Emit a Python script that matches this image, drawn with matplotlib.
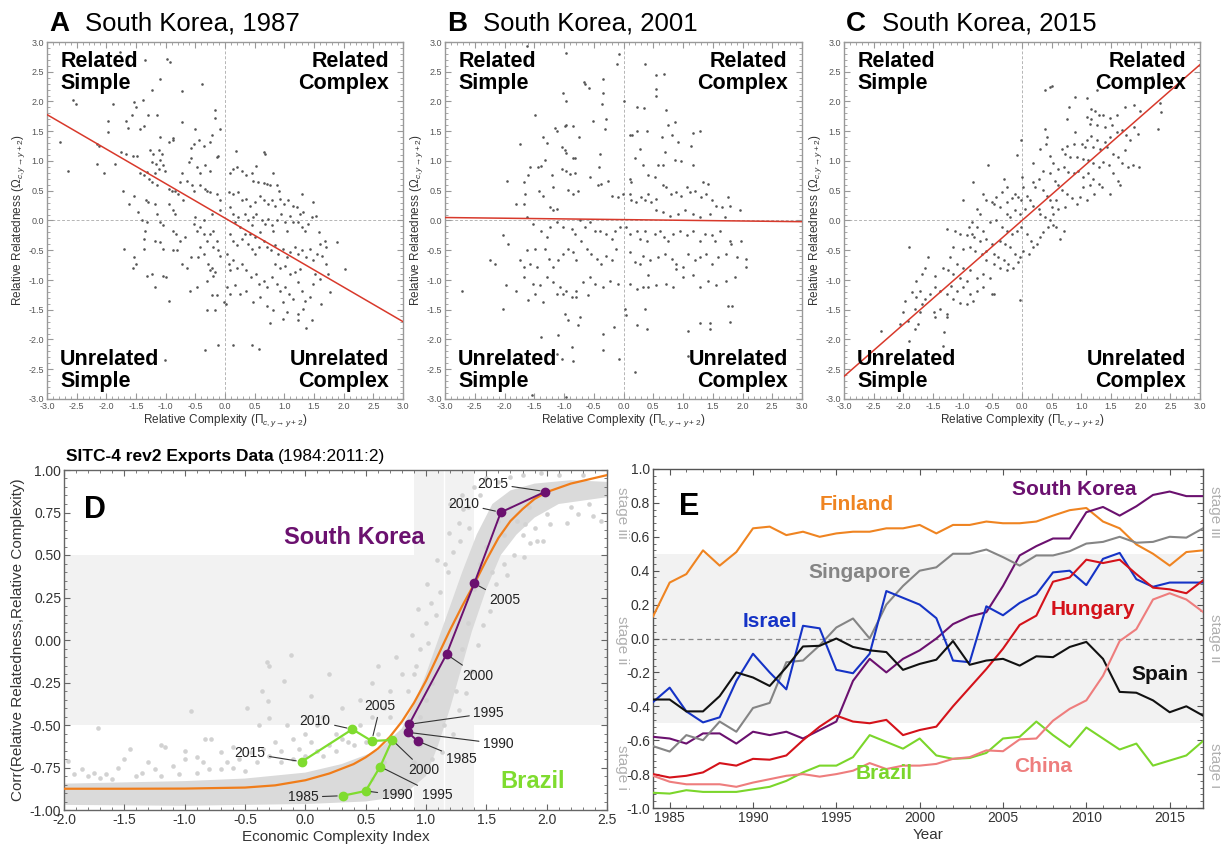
import numpy as np
import matplotlib
matplotlib.use("Agg")
import matplotlib.pyplot as plt
from matplotlib.ticker import MultipleLocator, FormatStrFormatter, AutoMinorLocator

plt.rcParams.update({
    "font.family": ["Liberation Sans", "DejaVu Sans"],
    "mathtext.fontset": "custom",
    "mathtext.rm": "Liberation Sans",
    "mathtext.it": "Liberation Sans:italic",
    "axes.unicode_minus": True,
})

# ---- panels A-C: product scatter (relative complexity, relative relatedness) ----
fit_x = [-3.0, 3.0]
fit_1987 = [1.78, -1.70]
fit_2001 = [0.05, -0.02]
fit_2015 = [-2.62, 2.62]

pts_1987 = [
    (-1.77, 2.83), (-1.35, 2.70), (-0.98, 2.72), (-0.93, 2.66), (-0.38, 2.29), (-1.10, 2.37), (-0.72, 2.18),
    (-2.56, 2.03), (-2.51, 1.95), (-1.89, 1.96), (-1.53, 1.99), (-1.39, 2.03), (-1.23, 2.19), (-0.17, 1.85),
    (-0.17, 1.73), (-0.08, 1.53), (-2.78, 1.32), (-2.64, 0.83), (-1.98, 1.67), (-1.97, 1.49), (-1.64, 1.55),
    (-1.67, 1.68), (-1.57, 1.78), (-1.50, 1.90), (-1.43, 1.54), (-1.36, 1.58), (-1.30, 1.78), (-1.15, 1.78),
    (-1.10, 1.40), (-0.94, 1.32), (-0.88, 1.35), (-0.87, 1.39), (-0.73, 1.65), (-0.50, 1.54), (-0.58, 1.22),
    (-0.53, 1.29), (-0.43, 1.35), (-0.36, 1.26), (-0.26, 1.32), (-0.22, 1.43), (-0.14, 1.07), (-0.11, 1.09),
    (0.19, 1.17), (0.66, 1.15), (-2.16, 1.29), (-2.12, 1.26), (-2.15, 0.95), (-2.04, 0.80), (-1.86, 0.95),
    (-1.72, 0.50), (-1.54, 0.42), (-1.61, 0.28), (-1.46, 0.14), (-1.75, 1.15), (-1.67, 1.12), (-1.55, 1.08),
    (-1.49, 1.09), (-1.26, 1.18), (-1.22, 1.12), (-1.12, 1.18), (-1.07, 1.12), (-1.23, 0.98), (-1.16, 0.95),
    (-1.09, 1.01), (-1.04, 0.93), (-1.18, 0.79), (-1.12, 0.87), (-1.01, 0.84), (-1.43, 0.79), (-1.36, 0.76),
    (-1.32, 0.81), (-1.28, 0.70), (-1.23, 0.64), (-1.15, 0.59), (-0.95, 0.53), (-0.90, 0.50), (-0.84, 0.49),
    (-0.79, 0.45), (-0.76, 0.64), (-0.73, 0.79), (-0.64, 0.67), (-0.60, 0.98), (-0.57, 1.05), (-0.48, 0.90),
    (-0.42, 0.79), (-0.34, 0.93), (-0.25, 0.84), (-0.56, 0.59), (-0.53, 0.50), (-0.42, 0.59), (-0.34, 0.53),
    (-0.30, 0.50), (-0.25, 0.48), (-0.70, 0.34), (-0.95, 0.28), (-0.87, 0.17), (-0.84, 0.11), (-1.33, 0.34),
    (-1.29, 0.31), (-1.18, 0.27), (-1.40, 0.00), (-1.32, -0.03), (-1.35, -0.17), (-1.15, 0.11), (-1.09, -0.03),
    (-1.04, -0.08), (-1.37, -0.31), (-1.36, -0.48), (-1.18, -0.34), (-1.09, -0.36), (-1.04, -0.48), (-1.71, -0.48),
    (-1.54, -0.62), (-1.50, -0.73), (-1.55, -0.79), (-1.32, -0.93), (-1.23, -0.90), (-1.18, -1.12), (-0.95, -1.35),
    (-1.05, -0.93), (-1.00, -0.95), (-0.87, -0.17), (-0.82, -0.22), (-0.76, -0.34), (-0.67, -0.28), (-0.87, -0.50),
    (-0.81, -0.49), (-0.73, -0.73), (-0.64, -0.79), (-0.58, -0.62), (-0.50, 0.06), (-0.53, -0.06), (-0.48, -0.17),
    (-0.42, -0.11), (-0.36, 0.00), (-0.35, -0.22), (-0.30, -0.34), (-0.25, -0.22), (-0.20, -0.17), (-0.20, -0.45),
    (-0.14, -0.34), (-0.11, -0.50), (-0.08, -0.59), (-0.45, -0.62), (-0.42, -0.45), (-0.35, -0.56), (-0.28, -0.73),
    (-0.22, -0.79), (-0.17, -0.87), (-0.59, -1.18), (-0.48, -1.11), (-0.31, -1.01), (-0.25, -0.84), (-0.20, -0.93),
    (-0.22, -1.26), (-0.14, -1.26), (-0.30, -1.51), (-0.17, -1.51), (-0.02, -1.37), (0.02, -1.40), (-0.33, -2.17),
    (-0.11, -2.10), (0.14, -2.10), (0.45, -2.10), (0.58, -2.16), (0.17, -1.09), (0.03, -1.12), (0.08, -1.23),
    (0.08, 0.79), (0.14, 0.87), (0.21, 0.90), (0.29, 0.84), (0.36, 0.76), (0.45, 0.79), (0.53, 0.91), (0.48, 0.67),
    (0.56, 0.64), (0.65, 0.63), (0.70, 0.62), (0.76, 0.59), (0.87, 0.59), (0.91, 0.50), (0.81, 0.79), (0.67, 1.12),
    (0.06, 0.48), (0.14, 0.45), (0.22, 0.48), (0.28, 0.34), (0.36, 0.36), (0.42, 0.25), (0.50, 0.31), (0.59, 0.42),
    (0.65, 0.34), (0.73, 0.28), (0.79, 0.34), (0.84, 0.25), (0.93, 0.36), (0.99, 0.28), (1.07, 0.35), (1.15, 0.25),
    (1.21, 0.22), (1.29, 0.45), (1.49, 0.31), (1.53, 0.07), (0.08, 0.22), (0.14, 0.11), (0.17, -0.03), (0.22, 0.06),
    (0.25, -0.11), (0.34, 0.11), (0.39, 0.00), (0.45, -0.08), (0.48, 0.06), (0.53, 0.11), (0.62, 0.00), (0.67, -0.06),
    (0.73, 0.03), (0.79, -0.08), (0.81, -0.17), (0.87, 0.00), (0.95, 0.11), (1.01, -0.03), (1.04, -0.17), (1.09, 0.08),
    (1.15, -0.03), (1.23, -0.03), (1.29, -0.11), (1.35, -0.17), (1.40, -0.06), (1.46, 0.06), (1.59, -0.20), (1.68, -0.34),
    (1.88, -0.36), (2.02, -0.81), (0.08, -0.22), (0.14, -0.34), (0.21, -0.42), (0.28, -0.31), (0.34, -0.22), (0.39, -0.39),
    (0.45, -0.48), (0.50, -0.56), (0.58, -0.45), (0.65, -0.34), (0.70, -0.45), (0.77, -0.50), (0.84, -0.42), (0.90, -0.56),
    (0.97, -0.48), (1.04, -0.62), (1.10, -0.53), (1.18, -0.45), (1.23, -0.56), (1.29, -0.50), (1.36, -0.62), (1.43, -0.48),
    (1.49, -0.67), (1.55, -0.56), (1.63, -0.59), (1.71, -0.73), (0.14, -0.67), (0.21, -0.79), (0.28, -0.73), (0.36, -0.84),
    (0.43, -0.95), (0.52, -0.90), (0.58, -1.07), (0.65, -1.01), (0.70, -1.12), (0.79, -0.95), (0.87, -1.07), (0.93, -1.18),
    (1.01, -1.12), (1.08, -1.23), (1.15, -1.32), (1.23, -1.04), (1.29, -1.18), (1.35, -1.35), (1.43, -1.29), (1.49, -1.07),
    (0.25, -1.23), (0.36, -1.18), (0.48, -1.37), (0.59, -1.29), (0.70, -1.43), (0.81, -1.51), (0.97, -1.37), (1.04, -1.54),
    (1.23, -1.57), (1.32, -1.49), (0.76, -1.73), (0.98, -1.65), (1.23, -1.68), (1.36, -1.81), (1.46, -1.68), (1.62, -1.40),
    (1.77, -1.21), (1.74, -0.90), (1.32, 0.14), (1.26, 0.11), (1.71, -0.45), (1.60, -0.39), (1.60, -0.98), (1.51, -0.90),
    (1.09, -0.90), (1.18, -0.87), (1.26, -0.81), (0.42, -0.22), (0.50, -0.28), (0.59, -0.20), (0.84, -0.73), (0.93, -0.79),
    (1.01, -0.76), (0.03, -0.56), (0.06, -0.73), (0.08, -0.84), (-0.22, 0.11), (-0.08, 0.34), (-0.13, 0.44), (-0.08, 0.17),
    (-1.01, -2.34),
]

pts_2001 = [
    (-1.63, 2.94), (-0.97, 2.81), (-0.07, 2.80), (-0.11, 2.63), (0.36, 2.63), (0.55, 2.45), (0.68, 2.46), (0.55, 2.21),
    (0.54, 2.10), (-0.67, 2.33), (-0.65, 2.29), (-0.58, 2.23), (-0.34, 2.37), (-0.34, 2.15), (-0.36, 1.95), (-1.01, 2.15),
    (-0.97, 2.00), (0.01, 2.00), (0.22, 1.91), (0.34, 1.89), (-1.49, 1.78), (-0.52, 1.68), (-0.29, 1.70), (-0.31, 1.54),
    (0.71, 1.86), (0.87, 1.65), (0.75, 1.61), (1.17, 1.47), (1.28, 1.50), (0.11, 1.44), (0.15, 1.44), (0.22, 1.51),
    (0.40, 1.51), (0.64, 1.41), (0.81, 1.43), (0.92, 1.32), (1.14, 1.26), (-1.15, 1.55), (-1.12, 1.50), (-0.98, 1.58),
    (-0.96, 1.61), (-0.85, 1.58), (-0.74, 1.41), (-1.35, 1.40), (-1.29, 1.31), (-1.74, 1.29), (-1.04, 1.23), (-0.98, 1.18),
    (-0.96, 1.13), (-0.85, 1.05), (-0.82, 1.05), (-1.32, 1.01), (-1.38, 0.92), (-1.43, 0.90), (-0.40, 1.11), (-0.41, 0.90),
    (0.27, 1.20), (0.20, 1.05), (0.33, 0.94), (0.58, 0.94), (0.67, 0.94), (0.69, 1.15), (0.86, 1.02), (0.97, 1.00),
    (0.41, 0.77), (0.53, 0.73), (1.17, 0.94), (-1.04, 0.87), (-0.96, 0.83), (-0.90, 0.78), (-0.82, 0.79), (-1.21, 0.76),
    (-1.18, 0.56), (-1.57, 0.90), (-1.60, 0.76), (-1.96, 0.67), (-1.68, 0.64), (-1.66, 0.45), (-1.68, 0.28), (-1.81, 0.28),
    (-1.42, 0.50), (-1.35, 0.42), (-1.24, 0.22), (-1.18, 0.17), (-1.12, 0.20), (-0.93, 0.51), (-0.85, 0.45), (-0.76, 0.50),
    (-0.57, 0.73), (-0.43, 0.60), (-0.37, 0.62), (-0.26, 0.67), (-0.20, 0.42), (-0.09, 0.39), (-0.01, 0.45), (0.11, 0.70),
    (0.13, 0.64), (0.11, 0.45), (0.13, 0.34), (0.21, 0.31), (0.30, 0.39), (0.36, 0.34), (0.41, 0.45), (0.47, 0.31),
    (0.55, 0.36), (0.67, 0.59), (0.72, 0.56), (0.79, 0.45), (0.89, 0.48), (0.96, 0.42), (1.06, 0.56), (1.11, 0.48),
    (1.20, 0.49), (1.31, 0.39), (1.39, 0.45), (1.48, 0.34), (1.56, 0.25), (1.65, 0.22), (1.76, 0.39), (1.79, 0.25),
    (1.95, 0.18), (1.34, 0.64), (1.42, 0.62), (0.55, 0.17), (0.67, 0.14), (0.78, 0.08), (0.92, 0.11), (1.03, 0.17),
    (1.17, 0.11), (1.28, 0.06), (1.45, 0.11), (1.70, 0.06), (-1.63, 0.06), (-1.52, -0.06), (-1.38, -0.17), (-1.29, -0.28),
    (-1.24, -0.11), (-1.12, -0.03), (-1.01, -0.11), (-0.87, -0.14), (-0.82, -0.22), (-0.73, 0.00), (-0.65, -0.11),
    (-0.57, -0.03), (-0.48, -0.17), (-0.40, -0.17), (-0.29, -0.22), (-0.20, -0.31), (-0.15, -0.17), (-0.06, -0.11),
    (0.05, -0.11), (0.11, -0.22), (0.22, -0.17), (0.27, -0.31), (0.36, -0.17), (0.40, -0.34), (0.53, -0.22), (0.61, -0.17),
    (0.68, -0.28), (0.75, -0.34), (0.83, -0.22), (0.95, -0.17), (1.06, -0.25), (1.17, -0.17), (1.28, -0.34), (1.37, -0.22),
    (1.48, -0.25), (1.53, -0.34), (1.62, -0.17), (1.79, -0.34), (1.98, -0.34), (-2.03, -0.25), (-1.94, -0.39),
    (-2.24, -0.67), (-2.16, -0.73), (-1.74, -0.67), (-1.68, -0.78), (-1.63, -0.49), (-1.57, -0.73), (-1.49, -0.48),
    (-1.46, -0.78), (-1.32, -0.48), (-1.26, -0.64), (-1.18, -0.78), (-1.10, -0.67), (-1.01, -0.56), (-0.93, -0.48),
    (-0.85, -0.53), (-0.79, -0.67), (-0.71, -0.34), (-0.62, -0.48), (-0.54, -0.56), (-0.45, -0.64), (-0.37, -0.73),
    (-0.29, -0.59), (-0.20, -0.67), (-0.12, -0.48), (0.11, -0.53), (0.19, -0.70), (0.27, -0.73), (0.33, -0.59),
    (0.44, -0.67), (0.58, -0.62), (0.69, -0.56), (0.81, -0.64), (0.89, -0.73), (1.00, -0.78), (1.09, -0.56), (1.20, -0.67),
    (1.28, -0.62), (1.39, -0.56), (1.48, -0.73), (1.59, -0.62), (1.73, -0.56), (1.81, -0.39), (1.90, -0.62), (2.06, -0.64),
    (-1.68, -0.95), (-1.52, -1.06), (-1.40, -1.09), (-1.29, -0.95), (-1.18, -1.04), (-1.07, -1.12), (-0.96, -1.18),
    (-0.87, -1.29), (-0.79, -1.18), (-0.68, -1.04), (-0.57, -0.95), (-0.48, -1.06), (-0.34, -1.12), (-0.23, -1.01),
    (-0.09, -1.06), (0.11, -1.06), (0.22, -1.15), (0.33, -1.12), (0.41, -0.92), (0.55, -1.09), (0.72, -1.06), (0.83, -1.12),
    (0.89, -0.81), (1.00, -0.95), (1.17, -0.92), (1.28, -1.12), (1.42, -1.01), (1.56, -1.09), (1.73, -1.01), (1.87, -0.95),
    (2.06, -0.78), (-1.98, -1.09), (-1.81, -1.19), (-2.72, -1.18), (-2.02, -1.48), (-1.60, -1.34), (-1.49, -1.23),
    (-1.35, -1.37), (-1.12, -1.23), (-1.01, -1.23), (-0.79, -1.29), (-0.59, -1.26), (0.02, -1.48), (0.05, -1.59),
    (0.36, -1.48), (0.39, -1.82), (-0.98, -1.57), (-0.93, -1.68), (-0.73, -1.62), (-0.76, -1.76), (-1.39, -1.96),
    (-1.10, -1.93), (-0.87, -2.13), (-0.85, -2.36), (-0.34, -1.91), (-0.34, -2.17), (-0.16, -1.79), (-0.07, -2.32),
    (0.19, -2.55), (-1.53, -2.94), (-0.96, -2.97), (1.09, -1.85), (1.28, -1.73), (1.45, -1.73), (1.45, -1.82),
    (1.79, -1.71), (1.83, -1.43), (1.76, -1.43), (0.22, -1.76), (0.41, -1.12), (-1.12, -2.24), (-1.04, -2.32), (1.09, -2.28),
]

pts_2015 = [
    (0.39, 2.19), (0.47, 2.24), (0.51, 2.26), (0.89, 2.08), (1.09, 2.06), (0.80, 1.90), (0.75, 1.70), (1.26, 2.20),
    (2.33, 1.97), (2.34, 1.83), (2.30, 1.53), (2.19, 2.42), (1.99, 1.84), (1.88, 1.94), (1.74, 1.91), (1.60, 1.77),
    (1.48, 1.73), (1.37, 1.77), (1.17, 1.88), (1.23, 1.84), (1.29, 1.77), (1.17, 1.71), (1.09, 1.74), (1.15, 1.63),
    (1.26, 1.60), (1.40, 1.57), (1.51, 1.60), (1.60, 1.49), (1.69, 1.52), (1.76, 1.43), (1.88, 1.57), (1.96, 1.46),
    (1.82, 1.35), (1.74, 1.18), (1.48, 1.40), (1.40, 1.32), (1.26, 1.35), (1.17, 1.42), (1.09, 1.35), (1.01, 1.29),
    (1.06, 1.24), (1.20, 1.24), (1.31, 1.21), (1.43, 1.24), (1.54, 1.12), (1.62, 1.07), (1.69, 0.96), (1.78, 0.90),
    (1.87, 0.93), (1.98, 0.90), (0.89, 1.49), (0.87, 1.29), (0.75, 1.26), (0.67, 1.21), (0.72, 1.12), (0.81, 1.07),
    (0.92, 1.07), (1.03, 1.04), (1.12, 1.01), (1.20, 0.96), (1.29, 0.90), (1.37, 0.98), (1.46, 0.93), (1.54, 0.79),
    (1.62, 0.67), (1.48, 0.45), (1.65, 0.59), (0.47, 1.08), (0.53, 0.96), (0.61, 0.87), (0.70, 0.90), (0.78, 0.81),
    (0.87, 0.79), (0.95, 0.84), (1.03, 0.73), (1.12, 0.79), (1.20, 0.70), (1.29, 0.62), (1.15, 0.59), (1.03, 0.56),
    (0.98, 0.39), (0.92, 0.28), (1.09, 0.34), (1.21, 0.45), (1.34, 0.56), (0.39, 1.54), (0.42, 1.40), (0.40, 1.28),
    (0.30, 1.21), (0.19, 0.96), (0.47, 0.79), (0.56, 0.67), (0.61, 0.59), (0.67, 0.51), (0.75, 0.45), (0.84, 0.37),
    (0.72, 0.22), (0.61, 0.20), (0.53, 0.11), (0.36, 0.84), (0.28, 0.70), (0.19, 0.65), (0.22, 0.56), (0.35, 0.51),
    (0.42, 0.42), (0.47, 0.34), (0.58, 0.34), (0.50, 0.22), (0.00, 0.73), (0.02, 0.56), (0.08, 0.42), (0.13, 0.34),
    (0.19, 0.25), (0.28, 0.20), (0.30, 0.11), (0.39, 0.06), (0.47, 0.00), (0.58, -0.11), (0.70, -0.17), (0.64, -0.31),
    (0.53, -0.08), (0.44, -0.11), (0.35, -0.20), (0.30, -0.28), (0.25, -0.39), (-0.09, 1.10), (-0.02, 1.35),
    (-0.57, 0.93), (-0.83, 0.65), (-0.99, 0.35), (-0.31, 0.69), (-0.26, 0.56), (-0.34, 0.48), (-0.43, 0.39),
    (-0.51, 0.31), (-0.60, 0.34), (-0.65, 0.45), (-0.48, 0.28), (-0.37, 0.22), (-0.26, 0.31), (-0.17, 0.37),
    (-0.12, 0.45), (-0.06, 0.39), (-0.01, 0.34), (0.05, 0.20), (-0.03, 0.11), (-0.12, 0.17), (-0.20, 0.06),
    (-0.26, 0.11), (-0.76, 0.20), (-0.71, 0.11), (-0.85, -0.03), (-0.76, -0.11), (-0.65, -0.17), (-0.54, -0.03),
    (-0.43, 0.00), (-0.34, -0.11), (-0.26, -0.17), (-0.17, -0.22), (-0.09, -0.17), (-0.01, -0.11), (0.08, -0.22),
    (0.16, -0.34), (0.19, -0.45), (0.11, -0.56), (0.02, -0.51), (-0.04, -0.62), (-0.12, -0.56), (-0.20, -0.45),
    (-0.29, -0.39), (-0.37, -0.34), (-1.27, -0.14), (-1.13, -0.17), (-1.04, -0.22), (-0.93, -0.25), (-0.81, -0.28),
    (-0.70, -0.34), (-0.60, -0.31), (-0.51, -0.39), (-0.60, -0.51), (-0.48, -0.56), (-0.40, -0.62), (-0.31, -0.67),
    (-0.23, -0.73), (-0.15, -0.79), (-0.06, -0.70), (-0.26, -0.84), (-0.37, -0.79), (-0.48, -0.73), (-0.60, -0.67),
    (-0.68, -0.56), (-0.79, -0.51), (-0.88, -0.45), (-0.99, -0.48), (-1.16, -0.45), (-1.21, -0.62), (-1.10, -0.73),
    (-0.99, -0.79), (-0.88, -0.84), (-0.76, -0.96), (-0.65, -0.90), (-0.54, -0.96), (-0.93, -1.01), (-1.04, -0.96),
    (-1.16, -0.90), (-1.24, -0.84), (-1.33, -0.79), (-1.19, -1.10), (-1.10, -1.18), (-0.99, -1.12), (-0.88, -1.24),
    (-0.76, -1.18), (-0.65, -1.12), (-0.51, -1.24), (-0.82, -1.35), (-0.93, -1.40), (-1.04, -1.38), (-1.16, -1.32),
    (-1.27, -1.24), (-1.38, -1.18), (-1.47, -1.12), (-1.55, -1.24), (-1.58, -0.62), (-1.63, -0.79), (-1.69, -0.90),
    (-1.78, -1.01), (-1.72, -1.18), (-1.63, -1.32), (-1.69, -1.40), (-1.78, -1.29), (-1.86, -1.21), (-1.80, -1.49),
    (-1.72, -1.54), (-1.49, -1.54), (-1.38, -1.49), (-1.27, -1.57), (-1.27, -1.63), (-1.47, -1.63), (-1.97, -1.35),
    (-2.00, -1.54), (-1.92, -1.69), (-1.80, -1.83), (-1.75, -1.74), (-2.06, -1.74), (-1.90, -0.44), (-2.38, -1.85),
    (-1.31, -1.88), (-1.33, -2.11), (-1.90, -2.02), (-0.03, -1.33), (-0.48, -1.24), (-1.47, -0.94), (-0.84, -0.22),
    (-0.90, -0.11),
]

# ---- panel D: corr(relatedness, complexity) vs ECI ----
eci_x = [-2.0, -1.5, -1.0, -0.5, -0.25, 0.0, 0.2, 0.4, 0.5, 0.6, 0.7, 0.8, 0.9, 1.0, 1.1, 1.2,
         1.3, 1.4, 1.5, 1.6, 1.7, 1.8, 1.9, 2.0, 2.2, 2.5]
eci_fit = [-0.875, -0.875, -0.874, -0.868, -0.855, -0.825, -0.785, -0.73, -0.69, -0.64, -0.57,
           -0.48, -0.37, -0.24, -0.09, 0.06, 0.20, 0.33, 0.47, 0.60, 0.70, 0.77, 0.83, 0.87, 0.92, 0.97]

# dense core of the country-year cloud (outline)
core_x = [-2.0, -1.0, 0.0, 0.5, 0.8, 1.0, 1.1, 1.2, 1.28, 1.38, 1.5, 1.62, 1.75, 1.9, 2.1, 2.5,
          2.5, 2.2, 1.9, 1.7, 1.55, 1.42, 1.3, 1.2, 1.1, 1.0, 0.9, 0.8, 0.6, 0.3, 0.0, -0.5, -1.0, -2.0]
core_y = [-0.97, -0.975, -0.965, -0.95, -0.92, -0.80, -0.62, -0.40, -0.20, 0.05, 0.30, 0.50, 0.62, 0.72, 0.80,
          0.84, 0.93, 0.94, 0.92, 0.88, 0.80, 0.62, 0.40, 0.20, 0.0, -0.20, -0.38, -0.52, -0.65, -0.73, -0.78,
          -0.815, -0.83, -0.845]
cloud_pts = [
    (-1.97, -0.71), (-1.72, -0.52), (-1.45, -0.64), (-1.20, -0.62), (-1.16, -0.63), (-0.95, -0.42), (-0.83, -0.58),
    (-0.78, -0.58), (-0.48, -0.40), (-0.38, -0.50), (-0.36, -0.30), (-0.31, -0.36), (-0.30, -0.46), (-0.32, -0.13),
    (-0.30, -0.15), (-0.18, -0.24), (-0.12, -0.09), (-1.92, -0.79), (-1.85, -0.76), (-1.80, -0.80), (-1.70, -0.81),
    (-1.65, -0.79), (-1.55, -0.75), (-1.35, -0.78), (-1.30, -0.72), (-1.20, -0.80), (-1.10, -0.74), (-1.00, -0.70),
    (-0.90, -0.69), (-0.80, -0.76), (-0.70, -0.66), (-0.60, -0.63), (-0.55, -0.70), (-0.50, -0.77), (-0.45, -0.66),
    (-0.25, -0.60), (-0.20, -0.65), (-0.15, -0.50), (-0.10, -0.58), (0.00, -0.55), (0.05, -0.33), (0.10, -0.50),
    (0.15, -0.45), (0.20, -0.20), (0.25, -0.55), (0.30, -0.40), (0.35, -0.60), (0.45, -0.35), (0.55, -0.25),
    (0.65, -0.40), (0.70, -0.30), (0.60, -0.15), (0.75, -0.10), (0.80, -0.20), (0.88, 0.03), (0.93, 0.18),
    (1.01, 0.33), (1.04, 0.22), (1.09, 0.47), (1.16, 0.45), (1.19, 0.63), (1.27, 0.69), (1.31, 0.77), (1.36, 0.66),
    (1.00, 0.10), (0.95, -0.05), (0.90, -0.20), (0.85, -0.30), (0.75, -0.60), (0.65, -0.72), (0.55, -0.82),
    (1.13, -0.66), (1.22, -0.55), (1.27, -0.41), (1.33, -0.31), (1.38, -0.18), (1.43, -0.03), (1.47, 0.09),
    (1.53, 0.17), (1.58, 0.33), (1.67, 0.38), (1.73, 0.50), (1.81, 0.49), (1.86, 0.57), (1.97, 0.58), (2.03, 0.68),
    (2.17, 0.69), (2.26, 0.74), (2.38, 0.73), (2.45, 0.70), (1.50, 0.95), (1.60, 0.93), (1.70, 0.96), (1.80, 0.97),
    (1.95, 0.98), (2.10, 0.97), (2.30, 0.97), (1.85, 0.78), (1.75, 0.70), (1.65, 0.62), (1.40, 0.90), (1.30, 0.85),
    (1.20, 0.80), (1.80, 0.62), (1.90, 0.66), (0.95, -0.45), (1.00, -0.35), (1.05, -0.25), (0.92, -0.15),
    (1.02, -0.02), (1.08, 0.15), (1.12, 0.28), (1.18, 0.40), (1.22, 0.52), (1.28, 0.58), (1.35, 0.78), (1.45, 0.85),
    (1.40, 0.30), (1.45, 0.45), (1.50, 0.55), (1.35, 0.10), (1.30, -0.05), (1.25, -0.30), (1.15, -0.50),
    (1.05, -0.70), (0.95, -0.62), (0.90, -0.72), (1.60, 0.70), (1.70, 0.78), (1.65, 0.45), (1.55, 0.40), (1.82, 0.68),
    (1.92, 0.58), (2.00, 0.74), (2.35, 0.80), (2.20, 0.78), (0.70, -0.45), (0.60, -0.55), (0.50, -0.60),
    (0.40, -0.62), (0.45, -0.50), (0.55, -0.45), (0.30, -0.58), (0.20, -0.62), (0.10, -0.65), (0.00, -0.68),
    (-0.10, -0.70), (-0.20, -0.72), (-0.30, -0.68), (-0.40, -0.72), (-0.60, -0.75), (-0.70, -0.76), (-0.90, -0.78),
    (-1.05, -0.79), (-1.40, -0.80), (-1.60, -0.82), (-1.75, -0.78), (-1.50, -0.70), (-1.00, -0.65), (-0.65, -0.72),
    (-0.35, -0.64), (0.05, -0.60), (0.15, -0.68), (0.25, -0.65), (-1.25, -0.76), (-0.85, -0.72), (-0.05, -0.64),
]

path_years = ["1985", "1990", "1995", "2000", "2005", "2010", "2015"]
kor_eci = [0.93, 0.85, 0.86, 1.17, 1.40, 1.62, 1.99]
kor_corr = [-0.594, -0.543, -0.496, -0.084, 0.333, 0.751, 0.873]
kor_lab_x = [1.29, 1.60, 1.52, 1.43, 1.65, 1.31, 1.55]
kor_lab_y = [-0.70, -0.61, -0.43, -0.21, 0.235, 0.80, 0.92]
bra_eci = [0.31, 0.50, 0.62, 0.72, 0.55, 0.39, -0.03]
bra_corr = [-0.916, -0.888, -0.745, -0.588, -0.594, -0.525, -0.716]
bra_lab_x = [-0.02, 0.76, 1.09, 0.98, 0.62, 0.08, -0.46]
bra_lab_y = [-0.925, -0.912, -0.912, -0.765, -0.39, -0.476, -0.667]

# ---- panel E: corr over time ----
years = list(range(1984, 2018))
series = {
    "Finland": [0.13, 0.33, 0.38, 0.52, 0.43, 0.51, 0.65, 0.66, 0.61, 0.63, 0.60, 0.62, 0.63, 0.63, 0.65, 0.65,
                0.67, 0.62, 0.67, 0.67, 0.69, 0.68, 0.68, 0.69, 0.725, 0.757, 0.77, 0.69, 0.65, 0.555, 0.50, 0.43, 0.51, 0.52],
    "South Korea": [-0.58, -0.59, -0.62, -0.56, -0.56, -0.62, -0.55, -0.57, -0.55, -0.59, -0.54, -0.49, -0.25, -0.12,
                    -0.20, -0.12, -0.07, 0.0, 0.085, 0.13, 0.155, 0.31, 0.49, 0.545, 0.59, 0.59, 0.745, 0.776, 0.725,
                    0.78, 0.847, 0.867, 0.84, 0.84],
    "Singapore": [-0.635, -0.667, -0.57, -0.60, -0.49, -0.55, -0.41, -0.38, -0.14, -0.13, -0.04, 0.065, 0.118, 0.0,
                  0.20, 0.31, 0.40, 0.42, 0.50, 0.50, 0.525, 0.48, 0.43, 0.49, 0.49, 0.515, 0.56, 0.57, 0.60, 0.565,
                  0.57, 0.60, 0.595, 0.65],
    "Israel": [-0.375, -0.29, -0.43, -0.495, -0.465, -0.25, -0.09, -0.20, -0.30, 0.075, 0.06, -0.185, -0.205, -0.09,
               0.28, 0.24, 0.20, 0.12, -0.13, -0.14, 0.19, 0.137, 0.21, 0.26, 0.39, 0.40, 0.315, 0.47, 0.505, 0.35,
               0.305, 0.33, 0.33, 0.33],
    "Hungary": [-0.80, -0.82, -0.81, -0.79, -0.735, -0.75, -0.71, -0.715, -0.69, -0.60, -0.52, -0.455, -0.49, -0.50,
                -0.48, -0.57, -0.54, -0.52, -0.40, -0.29, -0.18, -0.06, 0.08, 0.135, 0.335, 0.36, 0.465, 0.445,
                0.465, 0.38, 0.30, 0.29, 0.267, 0.343],
    "Spain": [-0.36, -0.36, -0.43, -0.43, -0.34, -0.20, -0.23, -0.28, -0.17, -0.047, -0.043, 0.0, -0.05, -0.07,
              -0.08, -0.185, -0.15, -0.125, -0.015, -0.155, -0.13, -0.12, -0.16, -0.105, -0.11, -0.05, -0.02,
              -0.12, -0.315, -0.32, -0.365, -0.435, -0.40, -0.455],
    "Brazil": [-0.91, -0.915, -0.895, -0.905, -0.905, -0.905, -0.89, -0.875, -0.84, -0.79, -0.75, -0.75, -0.70,
               -0.57, -0.61, -0.65, -0.59, -0.69, -0.71, -0.705, -0.675, -0.59, -0.58, -0.49, -0.57, -0.64,
               -0.525, -0.59, -0.655, -0.62, -0.75, -0.72, -0.69, -0.605],
    "China": [-0.81, -0.845, -0.86, -0.86, -0.86, -0.875, -0.85, -0.83, -0.81, -0.80, -0.815, -0.80, -0.78, -0.735,
              -0.77, -0.75, -0.75, -0.74, -0.71, -0.70, -0.66, -0.665, -0.595, -0.59, -0.485, -0.415, -0.365,
              -0.22, -0.015, 0.055, 0.23, 0.267, 0.23, 0.157],
}
colors = {"Finland": "#ef8421", "South Korea": "#6b116f", "Singapore": "#858585", "Israel": "#1533c6",
          "Hungary": "#d4121a", "Spain": "#111111", "Brazil": "#7bd62b", "China": "#ee7d7d"}
label_pos = {"Finland": (1996.2, 0.79), "South Korea": (2009.3, 0.88), "Singapore": (1996.4, 0.39),
             "Israel": (1991.0, 0.10), "Hungary": (2010.4, 0.17), "Spain": (2014.4, -0.21),
             "Brazil": (1997.9, -0.795), "China": (2007.4, -0.755)}

stages = ["stage iii", "stage ii", "stage i"]
stage_y = [0.75, 0.0, -0.75]

PURPLE = "#6b116f"
GREEN = "#7fdc2f"
ORANGE = "#f07d1a"
BAND = "#f2f2f2"

W, H = 1221, 846
fig = plt.figure(figsize=(W / 100, H / 100), dpi=100)


def add_box(l, t, r, b):
    return fig.add_axes([l / W, 1 - b / H, (r - l) / W, (b - t) / H])


def style_ticks(ax, size, color, spine="#999999"):
    ax.tick_params(which="both", direction="in", top=True, right=True, labelsize=size,
                   labelcolor=color, color=spine, pad=2)
    ax.tick_params(which="major", length=4, width=0.8)
    ax.tick_params(which="minor", length=2, width=0.6)
    for s in ax.spines.values():
        s.set_color(spine)
        s.set_linewidth(1.0)


def scatter_panel(ax, pts, fit_y, letter, title, left_px):
    p = np.array(pts)
    ax.axhline(0, color="#b5b5b5", lw=0.7, ls=(0, (3, 2)), zorder=1)
    ax.axvline(0, color="#b5b5b5", lw=0.7, ls=(0, (3, 2)), zorder=1)
    ax.scatter(p[:, 0], p[:, 1], s=3.5, color="#555555", lw=0, zorder=2)
    ax.plot(fit_x, fit_y, color="#d8392b", lw=1.1, zorder=3)
    ax.set_xlim(-3, 3)
    ax.set_ylim(-3, 3)
    for axis in (ax.xaxis, ax.yaxis):
        axis.set_major_locator(MultipleLocator(0.5))
        axis.set_minor_locator(MultipleLocator(0.1))
        axis.set_major_formatter(FormatStrFormatter("%.1f"))
    style_ticks(ax, 6.5, "#555555")
    ax.set_xlabel(r"Relative Complexity ($\Pi_{c,y\rightarrow y+2}$)", fontsize=8.5, labelpad=1, color="#333333")
    ax.set_ylabel(r"Relative Relatedness ($\Omega_{c,y\rightarrow y+2}$)", fontsize=8.5, labelpad=1, color="#333333")
    kw = dict(transform=ax.transAxes, fontsize=15.5, weight="bold", linespacing=1.05, zorder=5)
    ax.text(0.037, 0.975, "Related\nSimple", ha="left", va="top", **kw)
    ax.text(0.96, 0.975, "Related\nComplex", ha="right", va="top", **kw)
    ax.text(0.037, 0.02, "Unrelated\nSimple", ha="left", va="bottom", **kw)
    ax.text(0.96, 0.02, "Unrelated\nComplex", ha="right", va="bottom", **kw)
    fig.text((left_px + 2) / W, 1 - 31 / H, letter, fontsize=20, weight="bold", va="baseline")
    fig.text((left_px + 38) / W, 1 - 31 / H, title, fontsize=18.5, va="baseline")


axA = add_box(47, 42, 403, 399)
axB = add_box(445, 42, 802, 399)
axC = add_box(844, 42, 1200, 399)
scatter_panel(axA, pts_1987, fit_1987, "A", "South Korea, 1987", 47)
scatter_panel(axB, pts_2001, fit_2001, "B", "South Korea, 2001", 445)
scatter_panel(axC, pts_2015, fit_2015, "C", "South Korea, 2015", 844)

# ---- D ----
axD = add_box(64, 470, 607, 810)
axD.axhspan(-0.5, 0.5, color=BAND, lw=0, zorder=0)
axD.axvspan(0.9, 1.4, color=BAND, lw=0, zorder=0)
axD.axvline(1.15, color="white", lw=1.0, zorder=0.5)
axD.fill(core_x, core_y, color="#dadada", lw=0, zorder=1)
cp = np.array(cloud_pts)
axD.scatter(cp[:, 0], cp[:, 1], s=11, color="#d2d2d2", lw=0, zorder=1)
axD.plot(eci_x, eci_fit, color=ORANGE, lw=1.6, zorder=3)
axD.plot(kor_eci, kor_corr, color=PURPLE, lw=1.4, marker="o", ms=6, zorder=4)
axD.plot(bra_eci, bra_corr, color=GREEN, lw=1.6, marker="o", ms=6, zorder=4)
for xs, ys, lx, ly in ((kor_eci, kor_corr, kor_lab_x, kor_lab_y), (bra_eci, bra_corr, bra_lab_x, bra_lab_y)):
    for yr, px, py, tx, ty in zip(path_years, xs, ys, lx, ly):
        axD.annotate(yr, xy=(px, py), xytext=(tx, ty), fontsize=10, ha="center", va="center", color="#222222",
                     zorder=6,
                     arrowprops=dict(arrowstyle="-", color="#333333", lw=0.8, shrinkA=1, shrinkB=4))
axD.text(0.41, 0.60, "South Korea", color=PURPLE, fontsize=17, weight="bold", ha="center", va="center")
axD.text(1.88, -0.83, "Brazil", color=GREEN, fontsize=17, weight="bold", ha="center", va="center")
axD.text(-1.74, 0.765, "D", fontsize=22, weight="bold", ha="center", va="center")
axD.set_xlim(-2.0, 2.5)
axD.set_ylim(-1.0, 1.0)
axD.xaxis.set_major_locator(MultipleLocator(0.5))
axD.xaxis.set_minor_locator(MultipleLocator(0.1))
axD.xaxis.set_major_formatter(FormatStrFormatter("%.1f"))
axD.yaxis.set_major_locator(MultipleLocator(0.25))
axD.yaxis.set_minor_locator(MultipleLocator(0.05))
axD.yaxis.set_major_formatter(FormatStrFormatter("%.2f"))
style_ticks(axD, 10, "#333333", spine="#666666")
axD.set_xlabel("Economic Complexity Index", fontsize=11, labelpad=2, color="#333333")
axD.set_ylabel("Corr(Relative Relatedness,Relative Complexity)", fontsize=11, labelpad=3, color="#333333")
for s, sy in zip(stages, stage_y):
    axD.text(1.027, sy, s, transform=axD.get_yaxis_transform(), rotation=270, ha="center", va="center",
             fontsize=11, color="#b0b0b0")

t1 = fig.text(66 / W, 1 - 461 / H, "SITC-4 rev2 Exports Data", fontsize=12.5, weight="bold", va="baseline")
fig.canvas.draw()
bb = t1.get_window_extent(fig.canvas.get_renderer())
fig.text((bb.x1 + 4) / W, 1 - 461 / H, "(1984:2011:2)", fontsize=12.5, va="baseline")

# ---- E ----
axE = add_box(653, 469, 1203, 808)
axE.axhspan(-0.5, 0.5, color=BAND, lw=0, zorder=0)
axE.axhline(0, color="#8a8a8a", lw=0.9, ls=(0, (4, 3)), zorder=1)
for name, vals in series.items():
    axE.plot(years, vals, color=colors[name], lw=1.5, zorder=3)
    lx, ly = label_pos[name]
    axE.text(lx, ly, name, color=colors[name], fontsize=15, weight="bold", ha="center", va="center", zorder=5)
axE.text(1986.2, 0.775, "E", fontsize=22, weight="bold", ha="center", va="center")
axE.set_xlim(1984, 2017)
axE.set_ylim(-1.0, 1.0)
axE.xaxis.set_major_locator(MultipleLocator(5))
axE.xaxis.set_minor_locator(MultipleLocator(1))
axE.yaxis.set_major_locator(MultipleLocator(0.2))
axE.yaxis.set_minor_locator(AutoMinorLocator(5))
axE.yaxis.set_major_formatter(FormatStrFormatter("%.1f"))
style_ticks(axE, 10, "#333333", spine="#555555")
axE.set_xlabel("Year", fontsize=11, labelpad=2, color="#333333")
for s, sy in zip(stages, stage_y):
    axE.text(1.022, sy, s, transform=axE.get_yaxis_transform(), rotation=270, ha="center", va="center",
             fontsize=11, color="#b0b0b0")

fig.savefig("out.png", dpi=100)
